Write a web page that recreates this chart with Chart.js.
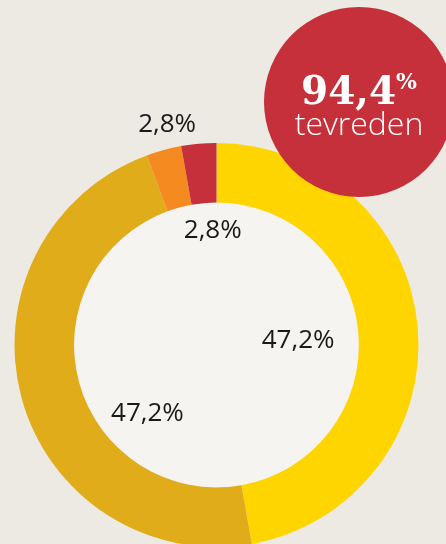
<!DOCTYPE html>
<html>
<head>
<meta charset="utf-8">
<script src="https://cdn.jsdelivr.net/npm/chart.js@4"></script>
<style>
  html, body { margin: 0; padding: 0; overflow: hidden; background: #EDEAE4; }
  #wrap { position: absolute; left: 0; top: 0; width: 446px; height: 560px; }
  #badge {
    position: absolute; left: 264px; top: 7px; width: 190px; height: 190px;
    border-radius: 50%; background: #C5303A; color: #fff; text-align: center;
  }
  #big {
    position: absolute; left: 0; width: 100%; top: 44px;
    font-family: "DejaVu Serif", serif; font-weight: bold; font-size: 39px; line-height: 60px;
  }
  #big sup { font-size: 22px; vertical-align: 15px; font-weight: bold; }
  #small {
    position: absolute; left: 0; width: 100%; top: 94px;
    font-family: "Open Sans", sans-serif; font-weight: 300; font-size: 32px; line-height: 44px;
  }
</style>
</head>
<body>
<div id="wrap"><canvas id="donut" width="446" height="560"></canvas></div>
<div id="badge">
  <div id="big">94,4<sup>%</sup></div>
  <div id="small">tevreden</div>
</div>
<script>
// DATA
const categories = ["Tevreden", "Zeer tevreden", "Ontevreden", "Zeer ontevreden"];
const shares = [47.2, 47.2, 2.8, 2.8];
const sliceColors = ["#FFD500", "#E0AC1A", "#F58A20", "#C5303A"];

// where each label sits: fraction of outer radius, angle shift in degrees
const labelPlace = [
  { r: 0.405, shift: 0.8 },
  { r: 0.473, shift: -28.6 },
  { r: 1.128, shift: 2.6 },
  { r: 0.579, shift: 3.2 }
];

// light fill in the hole
const holeFill = {
  id: "holeFill",
  beforeDatasetsDraw(chart) {
    const arc = chart.getDatasetMeta(0).data[0];
    if (!arc) return;
    const p = arc.getProps(["x", "y", "innerRadius"], true);
    const ctx = chart.ctx;
    ctx.save();
    ctx.fillStyle = "#F5F4F1";
    ctx.beginPath();
    ctx.arc(p.x, p.y, p.innerRadius, 0, Math.PI * 2);
    ctx.fill();
    ctx.restore();
  }
};

// percentage labels
const sliceLabels = {
  id: "sliceLabels",
  afterDatasetsDraw(chart) {
    const ctx = chart.ctx;
    const meta = chart.getDatasetMeta(0);
    ctx.save();
    ctx.font = "26px 'Open Sans', sans-serif";
    ctx.fillStyle = "#1A1A1A";
    ctx.textAlign = "center";
    ctx.textBaseline = "alphabetic";
    meta.data.forEach((arc, i) => {
      const p = arc.getProps(["x", "y", "startAngle", "endAngle", "outerRadius"], true);
      const a = (p.startAngle + p.endAngle) / 2 + labelPlace[i].shift * Math.PI / 180;
      const r = p.outerRadius * labelPlace[i].r;
      const txt = shares[i].toFixed(1).replace(".", ",") + "%";
      ctx.fillText(txt, p.x + Math.cos(a) * r, p.y + Math.sin(a) * r + 9.5);
    });
    ctx.restore();
  }
};

const donutChart = new Chart(document.getElementById("donut"), {
  type: "doughnut",
  data: {
    labels: categories,
    datasets: [{
      data: shares,
      backgroundColor: sliceColors,
      borderWidth: 0
    }]
  },
  options: {
    responsive: false,
    animation: false,
    cutout: "70.5%",
    layout: { padding: { left: 14.5, right: 27.5, top: 143, bottom: 13 } },
    plugins: {
      legend: { display: false },
      tooltip: { enabled: false }
    }
  },
  plugins: [holeFill, sliceLabels]
});
</script>
</body>
</html>
